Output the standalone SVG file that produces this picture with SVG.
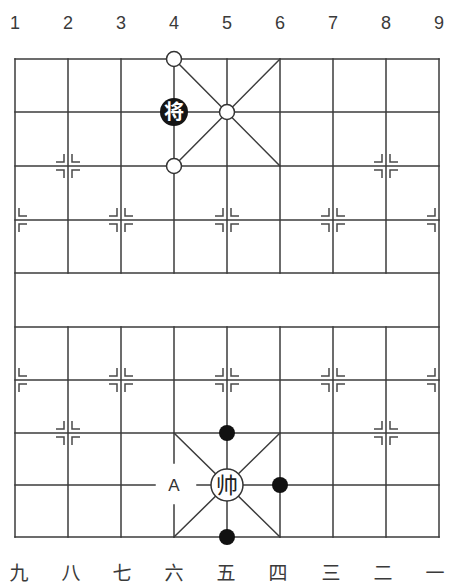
<svg xmlns="http://www.w3.org/2000/svg" width="449" height="588" viewBox="0 0 449 588">
<defs>
<style>
.ln{stroke:#3c3c3c;stroke-width:1.5;fill:none;stroke-linecap:square}
.mk{stroke:#4a4a4a;stroke-width:1.5;fill:none}
.num{font-family:"Liberation Sans","DejaVu Sans",sans-serif;font-size:18px;fill:#3a3a3a;text-anchor:middle}
.cn{font-family:"Noto Sans CJK SC","Noto Sans CJK JP",sans-serif;font-size:19px;fill:#3a3a3a;text-anchor:middle}
.open{fill:#fff;stroke:#333;stroke-width:1.5}
.dot{fill:#111}
</style>
</defs>
<rect width="449" height="588" fill="#fff"/>
<g id="labels-top">
<text class="num" x="15" y="29">1</text>
<text class="num" x="68" y="29">2</text>
<text class="num" x="121" y="29">3</text>
<text class="num" x="174" y="29">4</text>
<text class="num" x="227" y="29">5</text>
<text class="num" x="280" y="29">6</text>
<text class="num" x="333" y="29">7</text>
<text class="num" x="386" y="29">8</text>
<text class="num" x="439" y="29">9</text>
</g>
<g id="labels-bottom">
<text class="cn" x="19" y="580">九</text>
<text class="cn" x="71" y="580">八</text>
<text class="cn" x="122" y="580">七</text>
<text class="cn" x="174" y="580">六</text>
<text class="cn" x="226" y="580">五</text>
<text class="cn" x="278" y="580">四</text>
<text class="cn" x="331" y="580">三</text>
<text class="cn" x="383" y="580">二</text>
<text class="cn" x="435" y="580">一</text>
</g>
<g id="connectors">
<g id="grid" class="ln">
<path d="M15 59H439M15 112H439M15 166H439M15 220H439M15 273H439M15 327H439M15 380H439M15 433H439M15 485H155M197 485H439M15 537H439"/>
<path d="M15 59V537M439 59V537"/>
<path d="M68 59V273M121 59V273M174 59V273M227 59V273M280 59V273M333 59V273M386 59V273"/>
<path d="M68 327V537M121 327V537M174 327V463M174 505V537M227 327V537M280 327V537M333 327V537M386 327V537"/>
<path d="M174 59L280 166M280 59L174 166"/>
<path d="M174 433L280 537M280 433L174 537"/>
</g>
<g id="markers" class="mk">
<path d="M56 162H64V154M80 162H72V154M56 170H64V178M80 170H72V178"/>
<path d="M374 162H382V154M398 162H390V154M374 170H382V178M398 170H390V178"/>
<path d="M56 429H64V421M80 429H72V421M56 437H64V445M80 437H72V445"/>
<path d="M374 429H382V421M398 429H390V421M374 437H382V445M398 437H390V445"/>
<path d="M27 216H19V208M27 224H19V232"/>
<path d="M109 216H117V208M133 216H125V208M109 224H117V232M133 224H125V232"/>
<path d="M215 216H223V208M239 216H231V208M215 224H223V232M239 224H231V232"/>
<path d="M321 216H329V208M345 216H337V208M321 224H329V232M345 224H337V232"/>
<path d="M427 216H435V208M427 224H435V232"/>
<path d="M27 376H19V368M27 384H19V392"/>
<path d="M109 376H117V368M133 376H125V368M109 384H117V392M133 384H125V392"/>
<path d="M215 376H223V368M239 376H231V368M215 384H223V392M239 384H231V392"/>
<path d="M321 376H329V368M345 376H337V368M321 384H329V392M345 384H337V392"/>
<path d="M427 376H435V368M427 384H435V392"/>
</g>
</g>
<g id="p-open-1"><circle class="open" cx="174" cy="59" r="7.5"/></g>
<g id="p-open-2"><circle class="open" cx="227" cy="112" r="7.5"/></g>
<g id="p-open-3"><circle class="open" cx="174" cy="166" r="7.5"/></g>
<g id="p-jiang">
<circle cx="174" cy="112" r="14" fill="#151515"/>
<text x="174" y="119" font-family="'Noto Sans CJK SC','Noto Sans CJK JP',sans-serif" font-size="20" font-weight="bold" fill="#fff" text-anchor="middle">将</text>
</g>
<g id="p-shuai">
<circle cx="227" cy="485" r="16" fill="#fff" stroke="#333" stroke-width="1.5"/>
<text x="227" y="493" font-family="'Noto Sans CJK SC','Noto Sans CJK JP',sans-serif" font-size="22" fill="#222" text-anchor="middle">帅</text>
</g>
<g id="p-dot-1"><circle class="dot" cx="227" cy="433" r="8"/></g>
<g id="p-dot-2"><circle class="dot" cx="280" cy="485" r="8"/></g>
<g id="p-dot-3"><circle class="dot" cx="227" cy="537" r="8"/></g>
<g id="label-A"><text x="174" y="491" font-family="'Liberation Sans','DejaVu Sans',sans-serif" font-size="17" fill="#333" text-anchor="middle">A</text></g>
</svg>
